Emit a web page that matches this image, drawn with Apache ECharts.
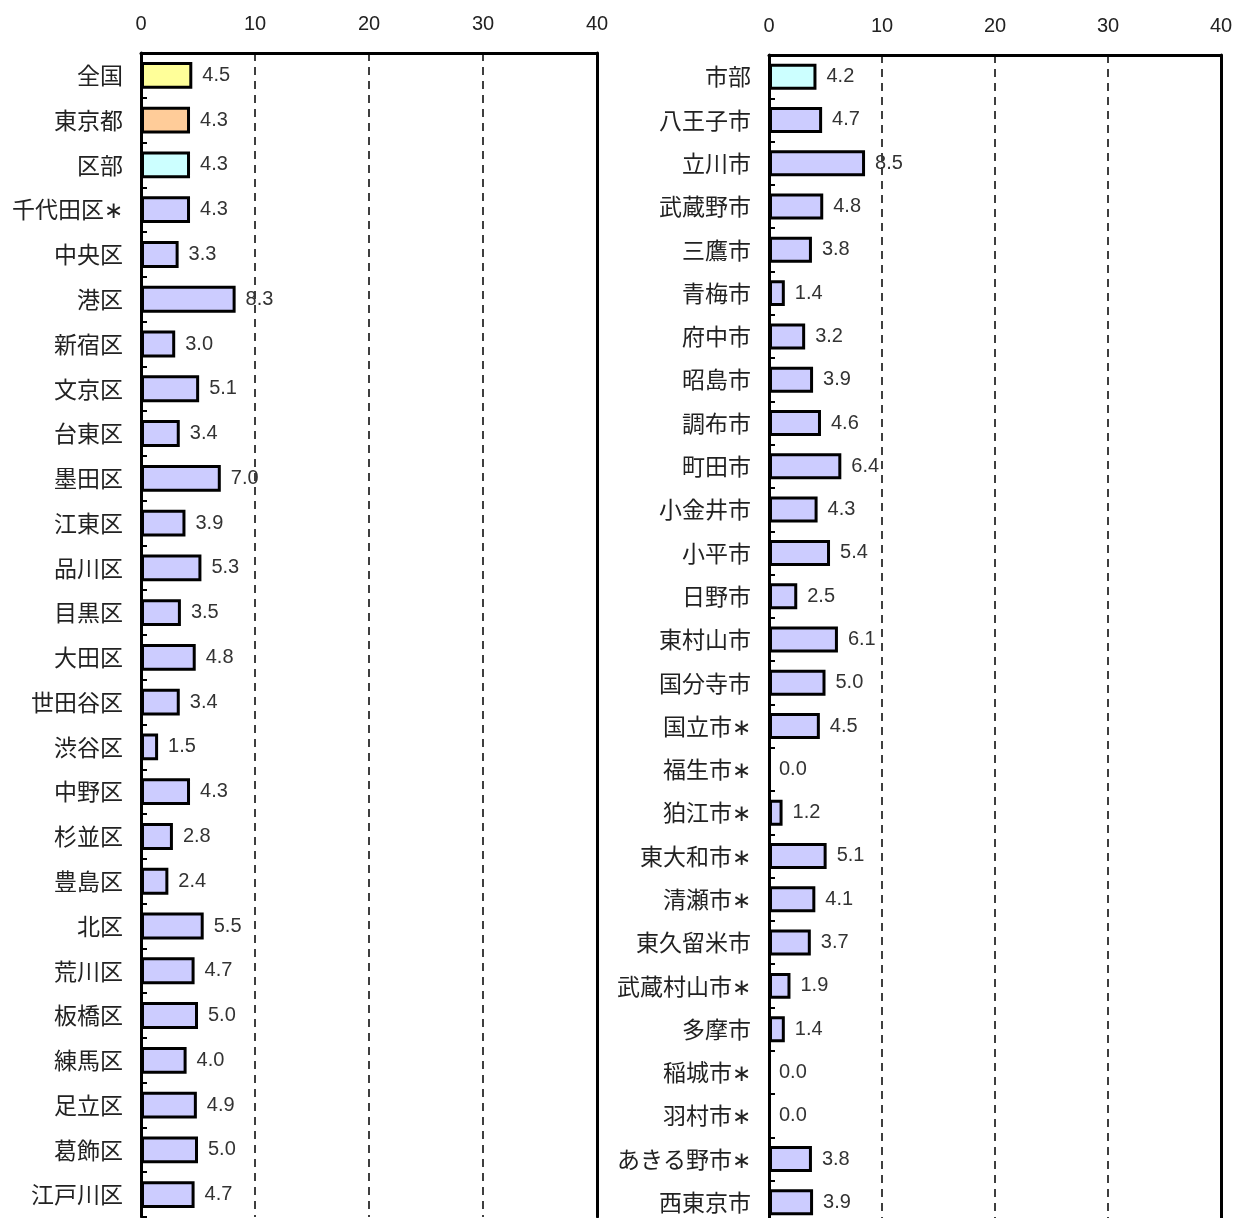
<!DOCTYPE html>
<html><head><meta charset="utf-8">
<script src="https://cdn.jsdelivr.net/npm/echarts@6/dist/echarts.min.js"></script>
<style>html,body{margin:0;padding:0;background:#fff;overflow:hidden}#c{width:1242px;height:1240px}</style>
</head><body><div id="c"></div>
<script>
const leftCategories = ['全国','東京都','区部','千代田区∗','中央区','港区','新宿区','文京区','台東区','墨田区','江東区','品川区','目黒区','大田区','世田谷区','渋谷区','中野区','杉並区','豊島区','北区','荒川区','板橋区','練馬区','足立区','葛飾区','江戸川区'];
const leftValues = [4.5,4.3,4.3,4.3,3.3,8.3,3.0,5.1,3.4,7.0,3.9,5.3,3.5,4.8,3.4,1.5,4.3,2.8,2.4,5.5,4.7,5.0,4.0,4.9,5.0,4.7];
const rightCategories = ['市部','八王子市','立川市','武蔵野市','三鷹市','青梅市','府中市','昭島市','調布市','町田市','小金井市','小平市','日野市','東村山市','国分寺市','国立市∗','福生市∗','狛江市∗','東大和市∗','清瀬市∗','東久留米市','武蔵村山市∗','多摩市','稲城市∗','羽村市∗','あきる野市∗','西東京市'];
const rightValues = [4.2,4.7,8.5,4.8,3.8,1.4,3.2,3.9,4.6,6.4,4.3,5.4,2.5,6.1,5.0,4.5,0.0,1.2,5.1,4.1,3.7,1.9,1.4,0.0,0.0,3.8,3.9];
const xTicks = [0,10,20,30,40];
const specialColors = {'全国':'#FFFF99','東京都':'#FFCC99','区部':'#CCFFFF','市部':'#CCFFFF'};
const baseColor = '#CCCCFF';

const catFont = '"Noto Sans CJK JP", "Noto Sans", sans-serif';
const numFont = '"Liberation Sans", Arial, sans-serif';

function mkData(cats, vals){
  return vals.map((v,i)=>({value:v, itemStyle:{color: specialColors[cats[i]] || baseColor, borderWidth: v === 0 ? 0 : 3}}));
}
function xAxis(gi){
  return {
    type:'value', gridIndex:gi, position:'top', min:xTicks[0], max:xTicks[xTicks.length-1], interval:10,
    axisLine:{show:true, onZero:false, lineStyle:{color:'#000', width:3}}, axisTick:{show:false},
    axisLabel:{fontSize:20, color:'#222', fontFamily:numFont, margin:19},
    splitLine:{show:true, lineStyle:{color:'#000', width:1.5, type:[8,6]}}
  };
}
function yAxis(gi, cats){
  return {
    type:'category', gridIndex:gi, data:cats, inverse:true,
    axisLine:{show:true, onZero:false, lineStyle:{color:'#000', width:3}},
    axisTick:{show:true, inside:true, length:6, lineStyle:{color:'#000', width:2}},
    axisLabel:{fontSize:23, color:'#222', fontFamily:catFont, margin:18}
  };
}
function yAxisRight(gi, cats){
  return {
    type:'category', gridIndex:gi, data:cats, inverse:true, position:'right',
    axisLine:{show:true, onZero:false, lineStyle:{color:'#000', width:3}},
    axisTick:{show:false}, axisLabel:{show:false}, splitLine:{show:false}
  };
}
function series(gi, cats, vals){
  return {
    type:'bar', xAxisIndex:gi, yAxisIndex:gi, data:mkData(cats, vals), barWidth:'60%',
    itemStyle:{borderColor:'#000', borderWidth:3},
    label:{show:true, position:'right', distance:10, fontSize:20, color:'#333', fontFamily:numFont,
      formatter:p=>Number(p.value).toFixed(1)},
    animation:false
  };
}
const chart = echarts.init(document.getElementById('c'));
chart.setOption({
  backgroundColor:'#fff',
  animation:false,
  grid:[
    {left:141, width:456, top:53, height:1164, show:false},
    {left:769, width:452, top:55, height:1169, show:false}
  ],
  xAxis:[xAxis(0), xAxis(1)],
  yAxis:[yAxis(0, leftCategories), yAxis(1, rightCategories), yAxisRight(0, leftCategories), yAxisRight(1, rightCategories)],
  series:[series(0, leftCategories, leftValues), series(1, rightCategories, rightValues)]
});
</script></body></html>
